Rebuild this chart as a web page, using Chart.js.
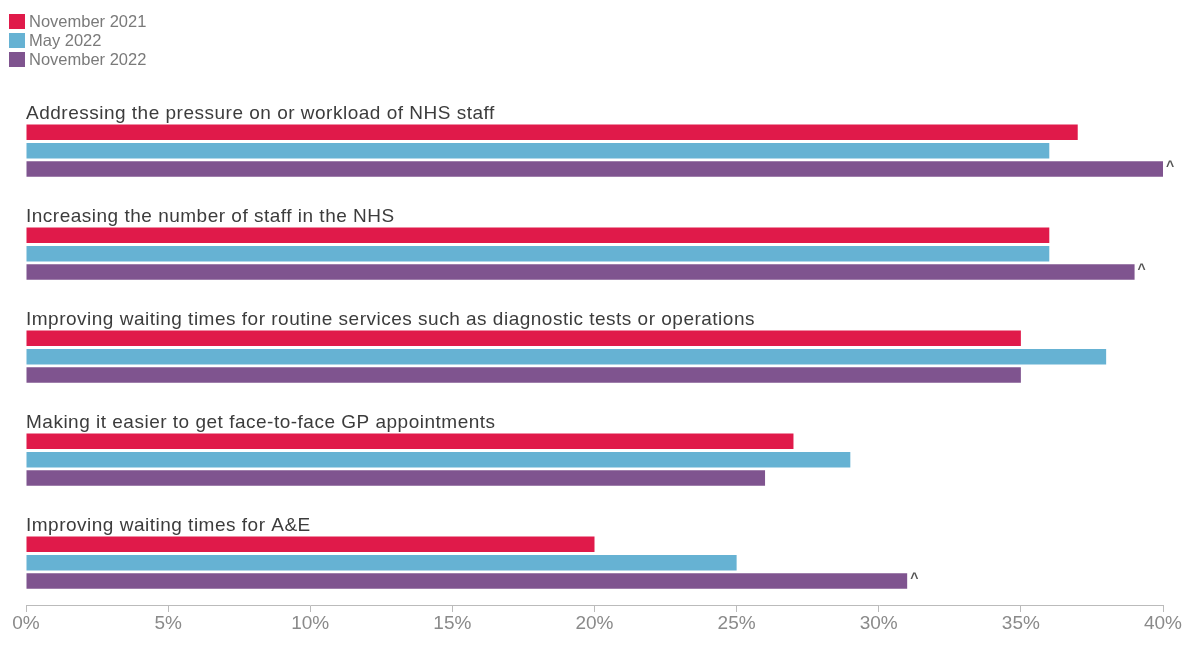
<!DOCTYPE html>
<html>
<head>
<meta charset="utf-8">
<script src="https://cdn.jsdelivr.net/npm/chart.js@4"></script>
<style>
  html, body { margin: 0; padding: 0; background: #fff; }
  #wrap { position: relative; width: 1188px; height: 651px; }
  #legend { position: absolute; left: 9px; top: 12px; font-family: "Liberation Sans", Arial, sans-serif; font-size: 16.5px; color: #7a7a7a; }
  #legend .item { display: flex; align-items: center; height: 19.2px; }
  #legend .sw { width: 16px; height: 15px; margin-right: 4px; }
</style>
</head>
<body>
<div id="wrap">
  <canvas id="chart" width="1188" height="651"></canvas>
  <div id="legend"></div>
</div>
<script>
// chart data
const categories = [
  'Addressing the pressure on or workload of NHS staff',
  'Increasing the number of staff in the NHS',
  'Improving waiting times for routine services such as diagnostic tests or operations',
  'Making it easier to get face-to-face GP appointments',
  'Improving waiting times for A&E'
];
const seriesNames = ['November 2021', 'May 2022', 'November 2022'];
const nov2021 = [37, 36, 35, 27, 20];
const may2022 = [36, 36, 38, 29, 25];
const nov2022 = [40, 39, 35, 26, 31];
// ^ marks shown next to November 2022 bars
const nov2022Marks = [true, true, false, false, true];
const tickValues = [0, 5, 10, 15, 20, 25, 30, 35, 40];

const colors = ['#e01a4a', '#66b2d3', '#7f548f'];
const seriesValues = [nov2021, may2022, nov2022];

// legend as plain html
const legendEl = document.getElementById('legend');
seriesNames.forEach((name, i) => {
  const row = document.createElement('div');
  row.className = 'item';
  row.innerHTML = '<span class="sw" style="background:' + colors[i] + '"></span><span>' + name + '</span>';
  legendEl.appendChild(row);
});

// category titles sit in the empty first slot of each group
const categoryTitles = {
  id: 'categoryTitles',
  afterDatasetsDraw(chart) {
    const ctx = chart.ctx;
    const y = chart.scales.y;
    ctx.save();
    ctx.font = '19px "Liberation Sans", Arial, sans-serif';
    ctx.letterSpacing = '0.5px';
    ctx.fillStyle = '#3c3c3c';
    ctx.textAlign = 'left';
    ctx.textBaseline = 'alphabetic';
    categories.forEach((c, i) => {
      ctx.fillText(c, chart.chartArea.left, y.getPixelForValue(i) - 23);
    });
    ctx.restore();
  }
};

const caretMarks = {
  id: 'caretMarks',
  afterDatasetsDraw(chart) {
    const ctx = chart.ctx;
    const meta = chart.getDatasetMeta(3);
    ctx.save();
    ctx.font = 'bold 14px "Liberation Sans", Arial, sans-serif';
    ctx.fillStyle = '#555';
    ctx.textAlign = 'left';
    ctx.textBaseline = 'alphabetic';
    meta.data.forEach((bar, i) => {
      if (!nov2022Marks[i]) return;
      ctx.fillText('^', bar.x + 3, bar.y - bar.height / 2 + 10);
    });
    ctx.restore();
  }
};

const datasets = [{
  label: '',
  data: categories.map(() => null),
  backgroundColor: 'rgba(0,0,0,0)'
}];
seriesNames.forEach((name, i) => {
  datasets.push({
    label: name,
    data: seriesValues[i],
    backgroundColor: colors[i],
    borderWidth: 0
  });
});

new Chart(document.getElementById('chart'), {
  type: 'bar',
  data: { labels: categories, datasets: datasets },
  plugins: [categoryTitles, caretMarks],
  options: {
    indexAxis: 'y',
    responsive: false,
    animation: false,
    categoryPercentage: 0.713,
    barPercentage: 0.85,
    layout: { padding: { left: 26, right: 25, top: 90, bottom: 0 } },
    plugins: {
      legend: { display: false },
      tooltip: { enabled: false }
    },
    scales: {
      y: { display: false },
      x: {
        min: 0,
        max: 40,
        afterFit(scale) { scale.height = 46; },
        afterBuildTicks(scale) {
          scale.ticks = tickValues.map(v => ({ value: v }));
        },
        grid: {
          drawOnChartArea: false,
          drawTicks: true,
          tickLength: 7,
          color: '#bbb'
        },
        border: { color: '#bbb', width: 1 },
        ticks: {
          padding: 0,
          color: '#8a8a8a',
          font: { size: 19, family: '"Liberation Sans", Arial, sans-serif' },
          callback: v => v + '%'
        }
      }
    }
  }
});
</script>
</body>
</html>
